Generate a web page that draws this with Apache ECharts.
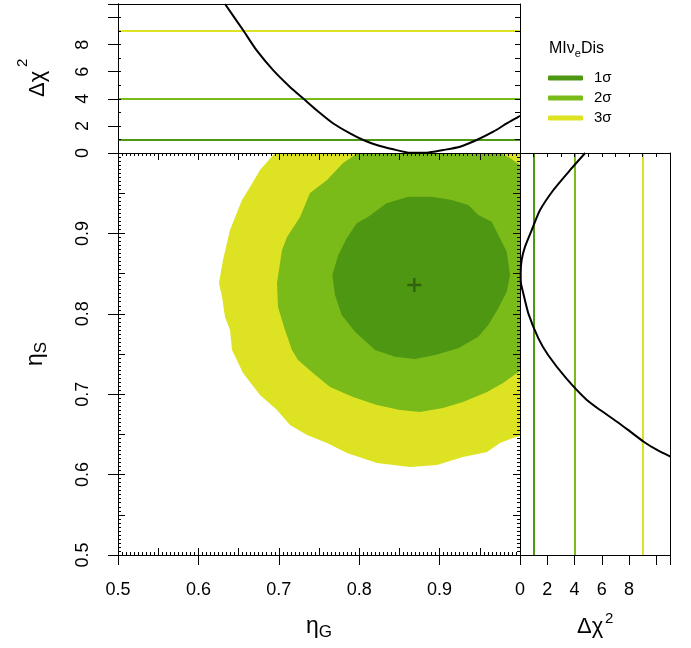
<!DOCTYPE html>
<html>
<head>
<meta charset="utf-8">
<script src="https://cdn.jsdelivr.net/npm/echarts@6/dist/echarts.min.js"></script>
<style>html,body{margin:0;padding:0;background:#fff}#chart{width:691px;height:648px}</style>
</head>
<body>
<div id="chart"></div>
<script>
// ---------------- data ----------------
const bestFit = [0.8686, 0.8358];               // [eta_G, eta_S]
const sigmaNames = ['1σ', '2σ', '3σ'];
const sigmaLevels = [1, 4, 9];                  // delta chi^2 levels
// contour boundaries [eta_G, eta_S]
const contour1 = [[0.8611,0.9456],[0.8902,0.9456],[0.9150,0.9415],[0.9357,0.9353],[0.9481,0.9229],[0.9648,0.9146],[0.9730,0.8980],[0.9835,0.8772],[0.9876,0.8483],[0.9835,0.8275],[0.9730,0.8068],[0.9606,0.7861],[0.9481,0.7715],[0.9233,0.7571],[0.8943,0.7488],[0.8694,0.7438],[0.8445,0.7466],[0.8197,0.7550],[0.7948,0.7777],[0.7782,0.7985],[0.7699,0.8234],[0.7665,0.8483],[0.7740,0.8731],[0.7845,0.8939],[0.7969,0.9126],[0.8113,0.9208],[0.8342,0.9374],[0.8570,0.9444]];
const contour2 = [[0.7985,1.0],[0.7799,0.9876],[0.7600,0.9664],[0.7388,0.9502],[0.7264,0.9204],[0.7102,0.8955],[0.7040,0.8794],[0.6978,0.8383],[0.6990,0.8085],[0.7077,0.7799],[0.7164,0.7550],[0.7239,0.7425],[0.7425,0.7264],[0.7637,0.7090],[0.7923,0.6965],[0.8221,0.6866],[0.8507,0.6803],[0.8756,0.6779],[0.9042,0.6828],[0.9291,0.6903],[0.9590,0.7027],[0.9789,0.7139],[0.9963,0.7264],[1.0,0.7289],[1.0,0.9851],[0.9876,0.9938],[0.9751,1.0]];
const contour3 = [[0.6953,1.0],[0.6766,0.9789],[0.6642,0.9577],[0.6542,0.9415],[0.6393,0.9042],[0.6306,0.8669],[0.6256,0.8383],[0.6294,0.8209],[0.6331,0.7960],[0.6393,0.7799],[0.6418,0.7550],[0.6555,0.7264],[0.6766,0.6990],[0.6978,0.6803],[0.7139,0.6617],[0.7351,0.6493],[0.7600,0.6393],[0.7848,0.6269],[0.8221,0.6144],[0.8632,0.6095],[0.8968,0.6119],[0.9291,0.6219],[0.9590,0.6281],[0.9751,0.6393],[0.9913,0.6455],[1.0,0.6480],[1.0,1.0]];
// profile of delta chi^2 vs eta_G  [eta_G, dchi2]
const profileG = [[0.6331,11.0],[0.6559,9.04],[0.6725,7.57],[0.6932,6.10],[0.7139,4.88],[0.7305,4.02],[0.7471,3.16],[0.7678,2.18],[0.7886,1.45],[0.8051,0.96],[0.8218,0.59],[0.8424,0.27],[0.8632,0.02],[0.8840,0.02],[0.9046,0.22],[0.9254,0.46],[0.9461,0.96],[0.9668,1.57],[0.9835,2.18],[0.9979,2.67],[1.0,2.75]];
// profile of delta chi^2 vs eta_S  [dchi2, eta_S]
const profileS = [[4.78,1.0],[3.68,0.9789],[2.45,0.954],[1.47,0.929],[0.86,0.9042],[0.37,0.8835],[0.12,0.8669],[0.05,0.8504],[0.07,0.838],[0.24,0.8255],[0.61,0.8006],[1.35,0.7695],[2.06,0.7488],[3.38,0.720],[4.9,0.6928],[5.88,0.6803],[7.11,0.6658],[8.09,0.6534],[9.07,0.6409],[10.05,0.6306],[11.03,0.6223]];
const etaTickLabels = ['0.5','0.6','0.7','0.8','0.9',''];
const chiTickLabels = ['0','2','4','6','8',''];

// ---------------- style ----------------
const FONT = '"Liberation Sans", Arial, Helvetica, sans-serif';
const fills = ['#4E9712', '#7ABB1A', '#DDE323'];
const lineCols = ['#4E9712', '#7ABB1A', '#DDE323'];
const BLACK = '#000';

function etaFmt(v){ return etaTickLabels[Math.round((v - 0.5) / 0.1)] || ''; }
function chiFmt(v){ return chiTickLabels[Math.round(v / 2)] || ''; }

function axis(o){
  const base = {
    type:'value', z:10, splitLine:{show:false},
    axisLine:{show:true, onZero:false, lineStyle:{color:BLACK, width:1}},
    axisTick:{show:false, lineStyle:{color:BLACK, width:1}},
    axisLabel:{show:false},
    minorTick:{show:false}
  };
  const r = Object.assign({}, base, o);
  if (o.axisLine) r.axisLine = Object.assign({}, base.axisLine, o.axisLine);
  if (o.axisTick) r.axisTick = Object.assign({}, base.axisTick, o.axisTick);
  if (o.minorTick) r.minorTick = Object.assign({lineStyle:{color:BLACK,width:1}}, o.minorTick);
  return r;
}
const lblStyle = {show:true, color:BLACK, fontSize:18, fontFamily:FONT};

const xAxes = [
  axis({gridIndex:0, position:'bottom', min:0.5, max:1, interval:0.1,
    axisTick:{show:true, inside:false, length:10},
    axisLabel:Object.assign({}, lblStyle, {margin:26, formatter:etaFmt})}),
  axis({gridIndex:0, position:'bottom', min:0.5, max:1, interval:0.05,
    axisTick:{show:true, inside:true, length:7},
    minorTick:{show:true, splitNumber:10, length:3}}),
  axis({gridIndex:0, position:'top', min:0.5, max:1, interval:0.05,
    axisTick:{show:true, inside:true, length:7},
    minorTick:{show:true, splitNumber:10, length:3}}),
  axis({gridIndex:1, position:'bottom', min:0.5, max:1, interval:0.1, axisLine:{show:false}}),
  axis({gridIndex:1, position:'top', min:0.5, max:1, interval:0.1}),
  axis({gridIndex:2, position:'bottom', min:0, max:11, interval:2,
    axisTick:{show:true, inside:false, length:10},
    axisLabel:Object.assign({}, lblStyle, {margin:26, formatter:chiFmt})}),
  axis({gridIndex:2, position:'top', min:0, max:11, interval:1,
    axisTick:{show:true, inside:true, length:4}})
];
const yAxes = [
  axis({gridIndex:0, position:'left', min:0.5, max:1, interval:0.1,
    axisTick:{show:true, inside:false, length:10},
    axisLabel:Object.assign({}, lblStyle, {margin:26, rotate:90, formatter:etaFmt})}),
  axis({gridIndex:0, position:'left', min:0.5, max:1, interval:0.05,
    axisTick:{show:true, inside:true, length:7},
    minorTick:{show:true, splitNumber:10, length:3}}),
  axis({gridIndex:0, position:'right', min:0.5, max:1, interval:0.05,
    axisTick:{show:true, inside:true, length:7},
    minorTick:{show:true, splitNumber:10, length:3}}),
  axis({gridIndex:1, position:'left', min:0, max:11, interval:2,
    axisTick:{show:true, inside:false, length:10},
    axisLabel:Object.assign({}, lblStyle, {margin:26, rotate:90, formatter:chiFmt})}),
  axis({gridIndex:1, position:'left', min:0, max:11, interval:1,
    axisTick:{show:true, inside:true, length:3}}),
  axis({gridIndex:1, position:'right', min:0, max:11, interval:1,
    axisTick:{show:true, inside:true, length:5}}),
  axis({gridIndex:2, position:'left', min:0.5, max:1, interval:0.1, axisLine:{show:false}}),
  axis({gridIndex:2, position:'right', min:0.5, max:1, interval:0.1})
];

function contourSeries(name, pts, color, z){
  return {
    type:'custom', name:name, coordinateSystem:'cartesian2d', xAxisIndex:0, yAxisIndex:0,
    data:pts, z:z, silent:true, itemStyle:{color:color},
    encode:{x:0, y:1},
    renderItem:function(params, api){
      if (params.dataIndex !== 0) return null;
      const points = pts.map(function(p){ return api.coord(p); });
      return {type:'polygon', shape:{points:points}, style:{fill:color}};
    }
  };
}

const series = [
  contourSeries(sigmaNames[2], contour3, fills[2], 1),
  contourSeries(sigmaNames[1], contour2, fills[1], 2),
  contourSeries(sigmaNames[0], contour1, fills[0], 3),
  {
    type:'scatter', xAxisIndex:0, yAxisIndex:0, data:[bestFit], z:4, silent:true,
    symbol:'path://M0,5.8L14,5.8L14,8.2L0,8.2Z M5.8,0L8.2,0L8.2,14L5.8,14Z', symbolSize:14,
    itemStyle:{color:'#2B560E'}
  },
  {
    type:'line', xAxisIndex:3, yAxisIndex:3, data:[], z:3, silent:true,
    markLine:{symbol:'none', silent:true, animation:false, label:{show:false},
      data: sigmaLevels.map(function(v,i){ return {yAxis:v, lineStyle:{color:lineCols[i], width:2, type:'solid'}}; })}
  },
  {
    type:'line', xAxisIndex:5, yAxisIndex:6, data:[], z:3, silent:true,
    markLine:{symbol:'none', silent:true, animation:false, label:{show:false},
      data: sigmaLevels.map(function(v,i){ return {xAxis:v, lineStyle:{color:lineCols[i], width:2, type:'solid'}}; })}
  },
  {
    type:'line', xAxisIndex:3, yAxisIndex:3, data:profileG, symbol:'none', z:5, silent:true, clip:true,
    smooth:0.2, lineStyle:{color:BLACK, width:2}
  },
  {
    type:'line', xAxisIndex:5, yAxisIndex:6, data:profileS, symbol:'none', z:5, silent:true, clip:true,
    smooth:0.2, lineStyle:{color:BLACK, width:2}
  }
];

function txt(x, y, s, size, rot, align){
  return { type:'text', x:x, y:y, z:20, rotation:rot || 0,
    style:{text:s, fontSize:size, fontFamily:FONT, fill:BLACK, align:align || 'left', verticalAlign:'middle'} };
}

const option = {
  animation:false,
  backgroundColor:'#fff',
  grid:[
    {left:118, top:153, width:402, height:402},
    {left:118, top:4, width:402, height:149},
    {left:520, top:153, width:150, height:402}
  ],
  xAxis:xAxes,
  yAxis:yAxes,
  legend:{
    left:548, top:68, orient:'vertical', padding:0, itemGap:0,
    itemWidth:35, itemHeight:5, icon:'roundRect', selectedMode:false,
    textStyle:{fontSize:15, lineHeight:20, fontFamily:FONT, color:BLACK, padding:[0,0,0,6]},
    data: sigmaNames.map(function(n,i){ return {name:n, itemStyle:{color:fills[i]}}; })
  },
  graphic:[
    { type:'text', x:549, y:49, z:20,
      style:{text:'{a|MIν}{b|e}{a|Dis}', align:'left', verticalAlign:'middle', fill:BLACK,
        rich:{a:{fontSize:16, lineHeight:20, fontFamily:FONT, fill:BLACK},
              b:{fontSize:11, lineHeight:12, verticalAlign:'bottom', fontFamily:FONT, fill:BLACK}}}},
    { type:'text', x:319, y:627, z:20,
      style:{text:'{a|η}{b|G}', align:'center', verticalAlign:'middle', fill:BLACK,
        rich:{a:{fontSize:23, lineHeight:28, fontFamily:FONT, fill:BLACK},
              b:{fontSize:17, lineHeight:15, verticalAlign:'bottom', fontFamily:FONT, fill:BLACK}}}},
    { type:'text', x:36, y:354, z:20, rotation:Math.PI/2,
      style:{text:'{a|η}{b|S}', align:'center', verticalAlign:'middle', fill:BLACK,
        rich:{a:{fontSize:23, lineHeight:28, fontFamily:FONT, fill:BLACK},
              b:{fontSize:17, lineHeight:15, verticalAlign:'bottom', fontFamily:FONT, fill:BLACK}}}},
    txt(577, 627.3, 'Δχ', 22, 0, 'left'),
    txt(605, 618.5, '2', 15, 0, 'left'),
    txt(37.5, 97, 'Δχ', 22, Math.PI/2, 'left'),
    txt(23, 67, '2', 15, Math.PI/2, 'left')
  ],
  series:series
};

const chart = echarts.init(document.getElementById('chart'), null, {renderer:'canvas'});
chart.setOption(option);
</script>
</body>
</html>
